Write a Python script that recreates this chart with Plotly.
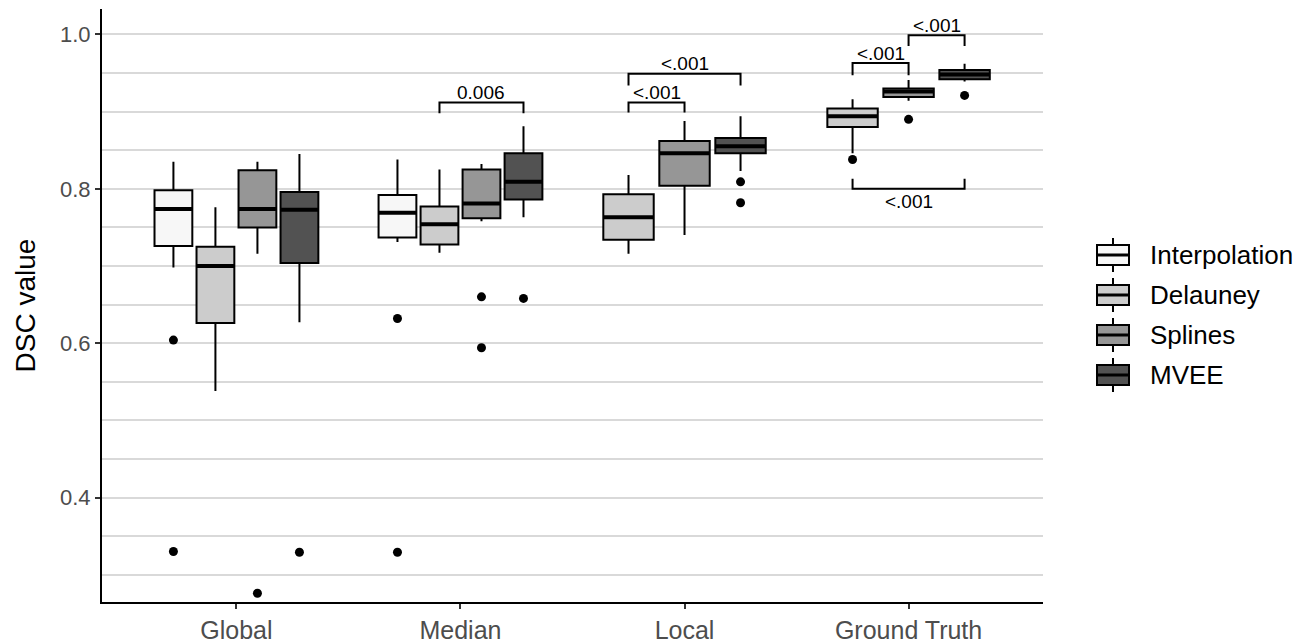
import plotly.graph_objects as go

# ---------------- data ----------------
categories = ["Global", "Median", "Local", "Ground Truth"]
methods = ["Interpolation", "Delauney", "Splines", "MVEE"]
fill_colors = ["#F7F7F7", "#CCCCCC", "#969696", "#525252"]

# rows = methods, columns = categories (None = method not present)
lower_whisker = [
    [0.698, 0.731, None, None],
    [0.538, 0.717, 0.716, 0.846],
    [0.716, 0.758, 0.740, 0.914],
    [0.627, 0.763, 0.823, 0.939],
]
q1_vals = [
    [0.726, 0.737, None, None],
    [0.626, 0.728, 0.734, 0.880],
    [0.750, 0.762, 0.804, 0.919],
    [0.704, 0.786, 0.846, 0.942],
]
median_vals = [
    [0.774, 0.769, None, None],
    [0.700, 0.754, 0.763, 0.894],
    [0.774, 0.781, 0.846, 0.926],
    [0.773, 0.809, 0.855, 0.948],
]
q3_vals = [
    [0.798, 0.792, None, None],
    [0.725, 0.777, 0.793, 0.904],
    [0.824, 0.825, 0.862, 0.930],
    [0.796, 0.846, 0.866, 0.954],
]
upper_whisker = [
    [0.835, 0.838, None, None],
    [0.776, 0.825, 0.818, 0.916],
    [0.835, 0.832, 0.888, 0.941],
    [0.845, 0.881, 0.894, 0.962],
]
outliers = [
    [[0.604, 0.330], [0.632, 0.329], [], []],
    [[], [], [], [0.838]],
    [[0.276], [0.660, 0.594], [], [0.890]],
    [[0.329], [0.658], [0.809, 0.782], [0.921]],
]

# significance brackets
bracket_cats = ["Median", "Local", "Local", "Ground Truth", "Ground Truth", "Ground Truth"]
bracket_from = ["Delauney", "Delauney", "Delauney", "Delauney", "Splines", "Delauney"]
bracket_to = ["MVEE", "Splines", "MVEE", "Splines", "MVEE", "MVEE"]
bracket_y = [0.912, 0.912, 0.949, 0.963, 0.999, 0.800]
bracket_tip = [0.014, 0.013, 0.015, 0.016, 0.014, -0.013]
bracket_labels = ["0.006", "<.001", "<.001", "<.001", "<.001", "<.001"]

FONT = "Liberation Sans, Arial, sans-serif"

# plot-area geometry in pixels (used for the hand-built legend)
W, H = 1309, 643
ML, MR, MT, MB = 102, 266, 9, 41
PW, PH = W - ML - MR, H - MT - MB


def px_to_paper_x(px):
    return (px - ML) / PW


def px_to_paper_y(py):
    return (H - MB - py) / PH


# ---------------- dodge positions (ggplot-like) ----------------
DODGE = 0.75
positions = {}  # (method_idx, cat_idx) -> (x, width)
for ci in range(len(categories)):
    present = [mi for mi in range(len(methods)) if median_vals[mi][ci] is not None]
    n = len(present)
    slot = DODGE / n
    for k, mi in enumerate(present):
        positions[(mi, ci)] = (ci + (k - (n - 1) / 2) * slot, 0.9 * slot)

fig = go.Figure()

for mi, m in enumerate(methods):
    by_width = {}
    for ci in range(len(categories)):
        if (mi, ci) in positions:
            x, w = positions[(mi, ci)]
            by_width.setdefault(round(w, 6), []).append((ci, x))
    for w, items in by_width.items():
        fig.add_trace(go.Box(
            x=[x for _, x in items],
            q1=[q1_vals[mi][ci] for ci, _ in items],
            median=[median_vals[mi][ci] for ci, _ in items],
            q3=[q3_vals[mi][ci] for ci, _ in items],
            lowerfence=[lower_whisker[mi][ci] for ci, _ in items],
            upperfence=[upper_whisker[mi][ci] for ci, _ in items],
            width=w,
            whiskerwidth=0,
            boxpoints=False,
            fillcolor=fill_colors[mi],
            line=dict(color="black", width=2),
            name=m,
            legendgroup=m,
            showlegend=False,
            hoverinfo="skip",
        ))

# thick median lines
mx, my = [], []
for (mi, ci), (x, w) in positions.items():
    mx += [x - w / 2, x + w / 2, None]
    my += [median_vals[mi][ci]] * 2 + [None]
fig.add_trace(go.Scatter(x=mx, y=my, mode="lines", line=dict(color="black", width=4),
                         showlegend=False, hoverinfo="skip"))

# outliers
ox, oy = [], []
for (mi, ci), (x, w) in positions.items():
    for v in outliers[mi][ci]:
        ox.append(x)
        oy.append(v)
fig.add_trace(go.Scatter(x=ox, y=oy, mode="markers",
                         marker=dict(color="black", size=9),
                         showlegend=False, hoverinfo="skip"))

# brackets
bx, by = [], []
for c, f, t, yv, tip, lab in zip(bracket_cats, bracket_from, bracket_to,
                                  bracket_y, bracket_tip, bracket_labels):
    ci = categories.index(c)
    x0 = positions[(methods.index(f), ci)][0]
    x1 = positions[(methods.index(t), ci)][0]
    bx += [x0, x0, x1, x1, None]
    by += [yv - tip, yv, yv, yv - tip, None]
    fig.add_annotation(x=(x0 + x1) / 2, y=yv, text=lab, showarrow=False,
                       yanchor="middle",
                       yshift=10 if tip > 0 else -13,
                       font=dict(family=FONT, size=19, color="black"))
fig.add_trace(go.Scatter(x=bx, y=by, mode="lines", line=dict(color="black", width=2),
                         showlegend=False, hoverinfo="skip"))

# ---------------- hand-built ggplot-style legend ----------------
LEG_Y0, LEG_DY = 255, 40          # pixel centre of first key, spacing
KEY_X0, KEY_X1 = 1097, 1129       # key box extents
for mi, m in enumerate(methods):
    cy = LEG_Y0 + mi * LEG_DY
    xc = (KEY_X0 + KEY_X1) / 2
    fig.add_shape(type="line", xref="paper", yref="paper",
                  x0=px_to_paper_x(xc), x1=px_to_paper_x(xc),
                  y0=px_to_paper_y(cy - 17), y1=px_to_paper_y(cy + 17),
                  line=dict(color="black", width=2))
    fig.add_shape(type="rect", xref="paper", yref="paper",
                  x0=px_to_paper_x(KEY_X0), x1=px_to_paper_x(KEY_X1),
                  y0=px_to_paper_y(cy - 10), y1=px_to_paper_y(cy + 10),
                  fillcolor=fill_colors[mi], line=dict(color="black", width=2))
    fig.add_shape(type="line", xref="paper", yref="paper",
                  x0=px_to_paper_x(KEY_X0), x1=px_to_paper_x(KEY_X1),
                  y0=px_to_paper_y(cy), y1=px_to_paper_y(cy),
                  line=dict(color="black", width=3))
    fig.add_annotation(xref="paper", yref="paper",
                       x=px_to_paper_x(1148), y=px_to_paper_y(cy),
                       xanchor="left", yanchor="middle", showarrow=False,
                       text=m, font=dict(family=FONT, size=26, color="black"))

fig.update_layout(
    width=W, height=H,
    margin=dict(l=ML, r=MR, t=MT, b=MB),
    paper_bgcolor="white", plot_bgcolor="white",
    font=dict(family=FONT, color="black"),
    showlegend=False,
    xaxis=dict(range=[-0.6, 3.6], tickvals=list(range(len(categories))),
               ticktext=categories, showline=True, linecolor="black", linewidth=2,
               ticks="outside", ticklen=5, tickwidth=2, tickcolor="#333333",
               tickfont=dict(family=FONT, size=25, color="#4D4D4D"),
               showgrid=False, zeroline=False, automargin=False),
    yaxis=dict(range=[0.2646, 1.033], tickvals=[0.4, 0.6, 0.8, 1.0],
               ticktext=["0.4", "0.6", "0.8", "1.0"],
               showline=True, linecolor="black", linewidth=2,
               ticks="outside", ticklen=5, tickwidth=2, tickcolor="#333333",
               tickfont=dict(family=FONT, size=22, color="#4D4D4D"),
               showgrid=True, gridcolor="#D9D9D9", gridwidth=2,
               minor=dict(dtick=0.05, tick0=0, showgrid=True, gridcolor="#D9D9D9",
                          gridwidth=2, ticks=""),
               zeroline=False, automargin=False,
               title=dict(text="DSC value", font=dict(family=FONT, size=28, color="black"),
                          standoff=16)),
)

fig.write_html("out.html")
